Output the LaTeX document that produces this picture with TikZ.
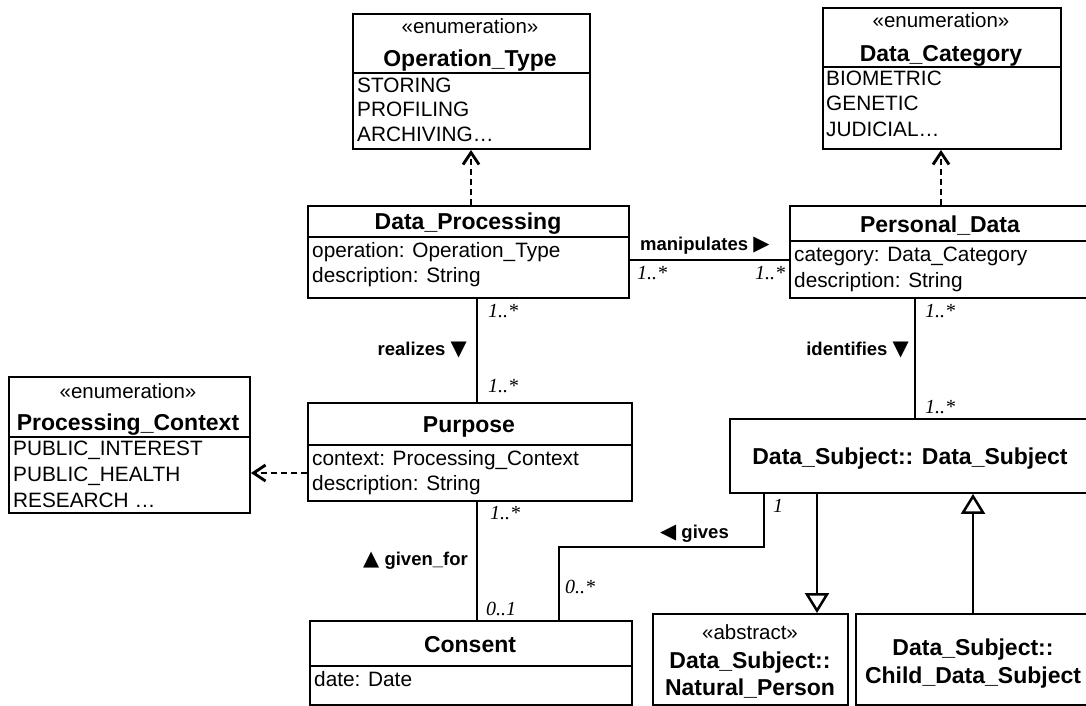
\documentclass[tikz,border=0pt]{standalone}
\usepackage{fontspec}
\setmainfont{Liberation Sans}
\newfontfamily\multfont{Liberation Serif}
\newfontfamily\symfont{DejaVu Sans}
\usetikzlibrary{arrows.meta,calc}
\newcommand{\tri}[1]{{\symfont\fontsize{21}{22}\selectfont #1}}
\tikzset{
  box/.style={draw, line width=1.9pt, inner sep=0pt, anchor=north west},
  divline/.style={line width=1.9pt},
  title/.style={font=\bfseries\fontsize{23}{26}\selectfont, inner sep=0pt, anchor=base},
  attr/.style={font=\fontsize{20.8}{24}\selectfont, inner sep=0pt, anchor=base west},
  stereo/.style={font=\fontsize{20.5}{24}\selectfont, inner sep=0pt, anchor=base},
  mult/.style={font=\multfont\itshape\fontsize{20}{22}\selectfont, inner sep=0pt, anchor=base west},
  lbl/.style={font=\bfseries\fontsize{18.5}{20}\selectfont, inner sep=0pt},
  assoc/.style={line width=1.7pt},
  dep/.style={line width=2.9pt, dash pattern=on 6pt off 4pt, -{Straight Barb[length=12pt,width=16pt]}},
  gen/.style={line width=2.8pt, -{Triangle[open,length=20pt,width=24pt,line width=2.5pt]}},
}
\begin{document}
\begin{tikzpicture}[x=1pt,y=-1pt]
\useasboundingbox (0,0) rectangle (1086,706);
\clip (0,0) rectangle (1086,706);
\fill[white] (0,0) rectangle (1086,706);

% ---------- Operation_Type ----------
\node[box, minimum width=237pt, minimum height=135pt] (opt) at (352,13) {};
\draw[divline] ($(opt.north west)+(0,60)$) -- ($(opt.north east)+(0,60)$);
\node[stereo] (optS) at (470,34) {«enumeration»};
\node[title] (optT) at (470,67) {Operation\_Type};
\node[attr] (opt1) at (357,93) {STORING};
\node[attr] (opt2) at (357,117) {PROFILING};
\node[attr] (opt3) at (357,141) {ARCHIVING…};

% ---------- Data_Category ----------
\node[box, minimum width=238pt, minimum height=141pt] (dcat) at (822,7) {};
\draw[divline] ($(dcat.north west)+(0,60)$) -- ($(dcat.north east)+(0,60)$);
\node[stereo] (dcatS) at (941,28) {«enumeration»};
\node[title] (dcatT) at (941,62) {Data\_Category};
\node[attr] (dcat1) at (826,86) {BIOMETRIC};
\node[attr] (dcat2) at (826,111) {GENETIC};
\node[attr] (dcat3) at (826,136) {JUDICIAL…};

% ---------- Data_Processing ----------
\node[box, minimum width=321pt, minimum height=92pt] (dp) at (307,205) {};
\draw[divline] ($(dp.north west)+(0,32)$) -- ($(dp.north east)+(0,32)$);
\node[title] (dpT) at (468,229) {Data\_Processing};
\node[attr] (dp1) at (312,257) {operation: Operation\_Type};
\node[attr] (dp2) at (312,282) {description: String};

% ---------- Personal_Data ----------
\node[box, minimum width=310pt, minimum height=92pt] (pd) at (789,205) {};
\draw[divline] ($(pd.north west)+(0,36)$) -- ($(pd.north east)+(0,36)$);
\node[title] (pdT) at (940,232) {Personal\_Data};
\node[attr] (pd1) at (794,261) {category: Data\_Category};
\node[attr] (pd2) at (794,287) {description: String};

% ---------- Processing_Context ----------
\node[box, minimum width=241pt, minimum height=136pt] (pc) at (8,376) {};
\draw[divline] ($(pc.north west)+(0,61)$) -- ($(pc.north east)+(0,61)$);
\node[stereo] (pcS) at (128,398) {«enumeration»};
\node[title] (pcT) at (128,430) {Processing\_Context};
\node[attr] (pc1) at (13,455) {PUBLIC\_INTEREST};
\node[attr] (pc2) at (13,481) {PUBLIC\_HEALTH};
\node[attr] (pc3) at (13,507) {RESEARCH …};

% ---------- Purpose ----------
\node[box, minimum width=324pt, minimum height=98pt] (pu) at (307,402) {};
\draw[divline] ($(pu.north west)+(0,43)$) -- ($(pu.north east)+(0,43)$);
\node[title] (puT) at (469,432) {Purpose};
\node[attr] (pu1) at (312,465) {context: Processing\_Context};
\node[attr] (pu2) at (312,490) {description: String};

% ---------- Consent ----------
\node[box, minimum width=322pt, minimum height=84pt] (co) at (309,620) {};
\draw[divline] ($(co.north west)+(0,46)$) -- ($(co.north east)+(0,46)$);
\node[title] (coT) at (470,652) {Consent};
\node[attr] (co1) at (314,686) {date: Date};

% ---------- Data_Subject ----------
\node[box, minimum width=370pt, minimum height=74pt] (ds) at (729,418) {};
\node[title] (dsT) at (910,464) {Data\_Subject:: Data\_Subject};

% ---------- Natural_Person ----------
\node[box, minimum width=195pt, minimum height=91pt] (np) at (652,613) {};
\node[stereo] (npS) at (750,639) {«abstract»};
\node[title] (npT1) at (750,668) {Data\_Subject::};
\node[title] (npT2) at (750,695) {Natural\_Person};

% ---------- Child_Data_Subject ----------
\node[box, minimum width=240pt, minimum height=91pt] (ch) at (855,613) {};
\node[title] (chT1) at (973,655) {Data\_Subject::};
\node[title] (chT2) at (973,683) {Child\_Data\_Subject};

% ---------- dependencies ----------
\draw[dep] (dp.north -| 471,0) -- (opt.south -| 471,0);
\draw[dep] (pd.north -| 941,0) -- (dcat.south -| 941,0);
\draw[dep] (pu.west |- 0,473) -- (pc.east |- 0,473);

% ---------- associations ----------
\draw[assoc] (dp.east |- 0,260) -- (pd.west |- 0,260);
\node[lbl, anchor=base west] (manip) at (640,250) {manipulates \tri{▶}};
\node[mult] (m1) at (637,279) {1..*};
\node[mult] (m2) at (755,279) {1..*};

\draw[assoc] (dp.south -| 477,0) -- (pu.north -| 477,0);
\node[lbl, anchor=base east] (real) at (467,355) {realizes \tri{▼}};
\node[mult] (m3) at (488,317) {1..*};
\node[mult] (m4) at (488,392) {1..*};

\draw[assoc] (pd.south -| 915,0) -- (ds.north -| 915,0);
\node[lbl, anchor=base east] (ident) at (909,355) {identifies \tri{▼}};
\node[mult] (m5) at (925,317) {1..*};
\node[mult] (m6) at (925,413) {1..*};

\draw[assoc] (pu.south -| 477,0) -- (co.north -| 477,0);
\node[lbl, anchor=base east] (givenfor) at (468,565) {\tri{▲} given\_for};
\node[mult] (m7) at (490,519) {1..*};
\node[mult] (m8) at (486,615) {0..1};

\coordinate (g1) at (764,547);
\coordinate (g2) at (559,547);
\draw[assoc] (ds.south -| g1) -- (g1) -- (g2) -- (co.north -| g2);
\node[lbl, anchor=base west] (gives) at (660,538) {\tri{◀} gives};
\node[mult] (m9) at (773,512) {1};
\node[mult] (m10) at (565,593) {0..*};

% ---------- generalizations ----------
\draw[gen] (ds.south -| 817,0) -- (np.north -| 817,0);
\draw[gen] (ch.north -| 973,0) -- (ds.south -| 973,0);
\end{tikzpicture}
\end{document}
